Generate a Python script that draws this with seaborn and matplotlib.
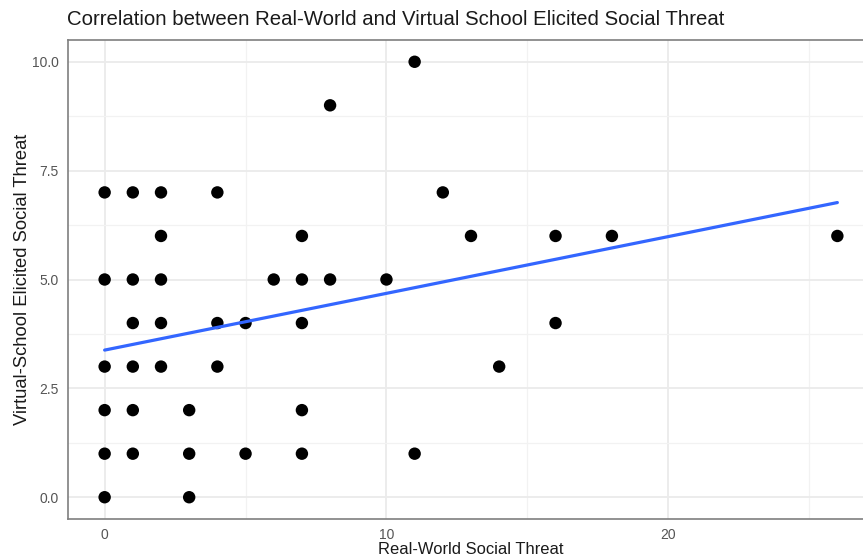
import matplotlib
matplotlib.use("Agg")
import matplotlib.pyplot as plt
import seaborn as sns
import pandas as pd
from matplotlib.ticker import MultipleLocator

# Real-world vs virtual-school elicited social threat scores
real_world = [0, 0, 0, 0, 0, 0,
              1, 1, 1, 1, 1, 1,
              2, 2, 2, 2, 2,
              3, 3, 3,
              4, 4, 4,
              5, 5,
              6,
              7, 7, 7, 7, 7,
              8, 8,
              10,
              11, 11,
              12, 13, 14,
              16, 16,
              18, 26]
virtual_school = [7, 5, 3, 2, 1, 0,
                  7, 5, 4, 3, 2, 1,
                  7, 6, 5, 4, 3,
                  2, 1, 0,
                  7, 4, 3,
                  4, 1,
                  5,
                  6, 5, 4, 2, 1,
                  9, 5,
                  5,
                  10, 1,
                  7, 6, 3,
                  6, 4,
                  6, 6]

x_ticks = [0, 10, 20]
y_ticks = [0.0, 2.5, 5.0, 7.5, 10.0]

df = pd.DataFrame({"Real-World Social Threat": real_world,
                   "Virtual-School Elicited Social Threat": virtual_school})

sns.set_theme(style="white")
plt.rcParams["font.family"] = ["Liberation Sans", "DejaVu Sans"]

W, H = 863, 558
fig = plt.figure(figsize=(W / 100, H / 100), dpi=100)
left, right, top, bottom = 68, 874, 40, 519
ax = fig.add_axes([left / W, (H - bottom) / H, (right - left) / W, (bottom - top) / H])

sns.regplot(data=df, x="Real-World Social Threat", y="Virtual-School Elicited Social Threat",
            ci=None, ax=ax,
            scatter_kws=dict(s=80, color="black", edgecolor="none", alpha=1, zorder=3),
            line_kws=dict(color="#3366FF", lw=2.3, zorder=4))

ax.set_xlim(-1.3, 27.3)
ax.set_ylim(-0.5, 10.5)
ax.set_xticks(x_ticks)
ax.set_xticklabels([str(v) for v in x_ticks])
ax.set_yticks(y_ticks)
ax.set_yticklabels([f"{v:.1f}" for v in y_ticks])
ax.xaxis.set_minor_locator(MultipleLocator(5))
ax.yaxis.set_minor_locator(MultipleLocator(1.25))

ax.grid(True, which="major", color="#EBEBEB", lw=1.3, zorder=0)
ax.grid(True, which="minor", color="#F2F2F2", lw=0.9, zorder=0)
ax.set_axisbelow(True)

for sp in ax.spines.values():
    sp.set_color("#7F7F7F")
    sp.set_linewidth(1.2)

ax.tick_params(axis="both", which="major", length=4, width=1.1, color="#555555",
               labelsize=10, labelcolor="#555555", pad=2.5)
ax.tick_params(axis="both", which="minor", length=0)

ax.set_xlabel("Real-World Social Threat", fontsize=11.9, color="#1A1A1A", labelpad=0)
ax.set_ylabel("Virtual-School Elicited Social Threat", fontsize=13.2, color="#1A1A1A", labelpad=1)

fig.text(67 / W, 1 - 25 / H, "Correlation between Real-World and Virtual School Elicited Social Threat",
         fontsize=14.7, color="#1A1A1A", ha="left", va="baseline")

fig.savefig("out.png", dpi=100)
